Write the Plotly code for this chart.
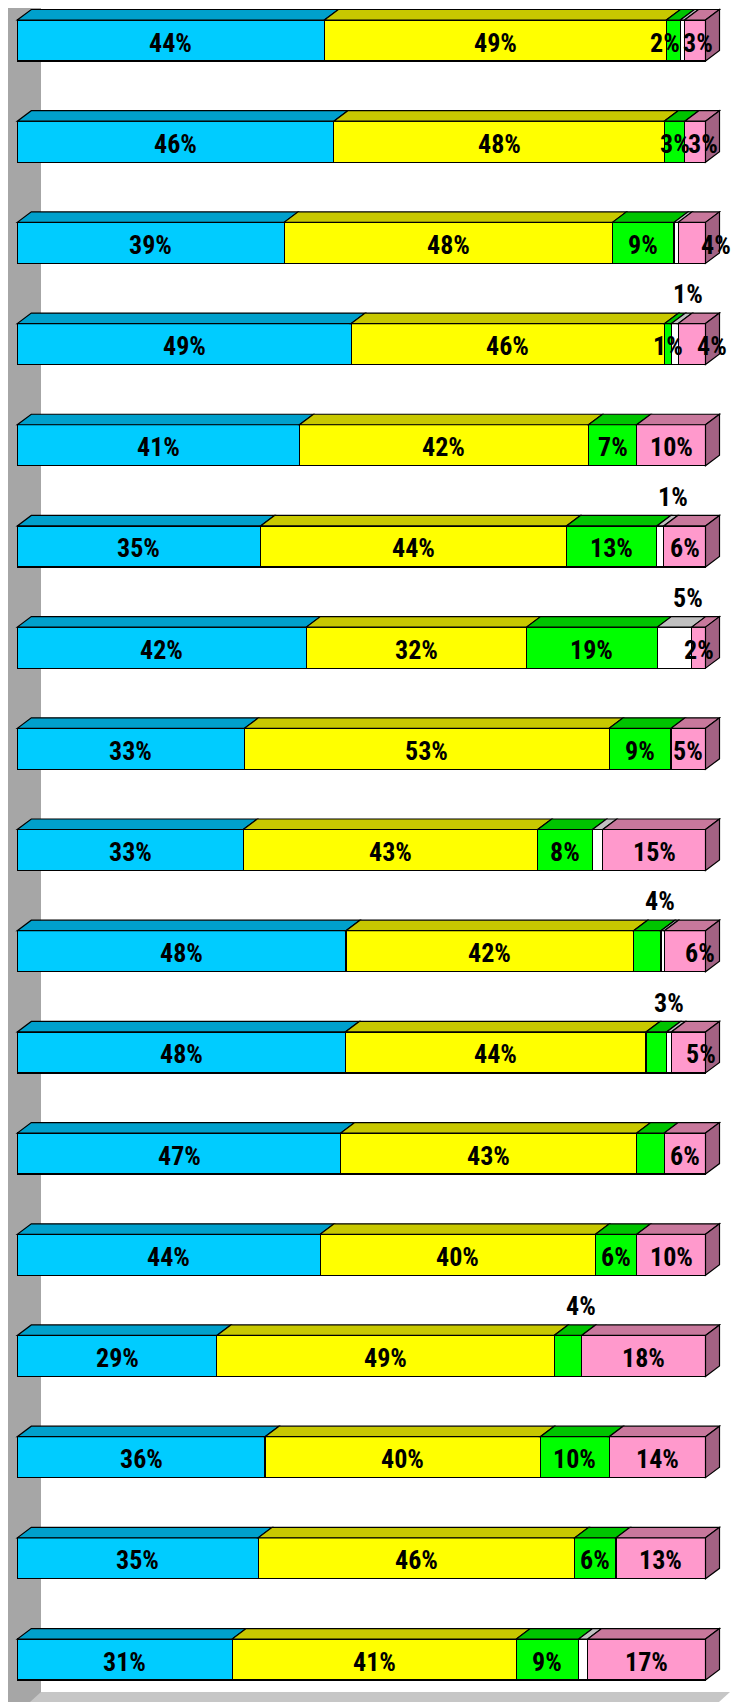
import plotly.graph_objects as go

# ---- data (percent per row, top row first) ----
cyan   = [44, 46, 39, 49, 41, 35, 42, 33, 33, 48, 48, 47, 44, 29, 36, 35, 31]
yellow = [49, 48, 48, 46, 42, 44, 32, 53, 43, 42, 44, 43, 40, 49, 40, 46, 41]
green  = [2, 3, 9, 1, 7, 13, 19, 9, 8, 4, 3, 4, 6, 4, 10, 6, 9]
white  = [0.6, 0, 0.6, 1, 0, 1, 5, 0, 1.5, 0.5, 0.7, 0, 0, 0, 0, 0, 1.3]
pink   = [3, 3, 4, 4, 10, 6, 2, 5, 15, 6, 5, 6, 10, 18, 14, 13, 17]

# label placement: "in" = centred in segment, "above" = above bar, None = no label
cyan_lbl   = ["in"] * 17
yellow_lbl = ["in"] * 17
green_lbl  = ["in"] * 9 + ["above", "above", None, "in", "above", "in", "in", "in"]
white_lbl  = [None, None, None, "above", None, "above", "above"] + [None] * 10
pink_lbl   = ["in"] * 17
# small horizontal nudges (px) of some labels, as in the original
pink_nudge = {0: 3, 1: 8, 2: 24, 3: 20, 9: 15, 10: 13}
green_nudge = {0: -8}

series = [
    ("cyan", cyan, cyan_lbl, "#00CCFF", "#00A0CC", "#007A99"),
    ("yellow", yellow, yellow_lbl, "#FFFF00", "#C8C800", "#999900"),
    ("green", green, green_lbl, "#00FF00", "#00C400", "#009900"),
    ("white", white, white_lbl, "#FFFFFF", "#C0C0C0", "#A0A0A0"),
    ("pink", pink, pink_lbl, "#FF99CC", "#C8789C", "#A36283"),
]

n = len(cyan)
rows = list(range(n))

# geometry (data units); page body has an 8px margin, so the figure is offset
OFF = 8
FIG_W, FIG_H = 741 - OFF, 1702 - OFF
PX_X = 6.882          # px per percent
PX_Y = 101.19         # px per row
X0_PX = 17.3          # page px of 0%
Y0_PX = 40.5          # page px of first row centre
BAR_W = 41 / PX_Y
DX = 14 / PX_X        # depth offset in x
DY = 10.5 / PX_Y      # depth offset in y
h = BAR_W / 2

def px2x(p):
    return (p - X0_PX) / PX_X

def px2y(p):
    return (p - Y0_PX) / PX_Y

FONT = "Roboto Condensed, Liberation Sans Narrow, DejaVu Sans Condensed, Arial Narrow, Roboto, sans-serif"
FSIZE = 26

fig = go.Figure()
for name, vals, _, front, top, side in series:
    fig.add_trace(go.Bar(
        y=rows, x=vals, orientation="h", width=BAR_W, name=name,
        marker=dict(color=front, line=dict(color="black", width=1.2)),
        hoverinfo="skip", showlegend=False))

shapes = []
annotations = []

# wall and floor
y_floor = px2y(1692)
y_bottom = px2y(1702) + 0.2
shapes.append(dict(type="rect", xref="x", yref="y", x0=px2x(7), x1=px2x(41),
                   y0=-1, y1=y_bottom, fillcolor="#A6A6A6", line=dict(width=0), layer="below"))
fx0 = px2x(41)
fx1 = px2x(730)
slope = (11 / PX_X) / (10 / PX_Y)
dyb = y_bottom - y_floor
shapes.append(dict(type="path", xref="x", yref="y",
                   path=f"M {fx0},{y_floor} L {fx1},{y_floor} L {fx1 - slope*dyb},{y_bottom} L {fx0 - slope*dyb},{y_bottom} Z",
                   fillcolor="#C6C6C6", line=dict(width=0), layer="below"))

for i in rows:
    total = sum(s[1][i] for s in series)
    cum = 0.0
    ytop = i - h
    last_idx = max(k for k, s in enumerate(series) if s[1][i] > 0)
    for k, (name, vals, lbls, front, top, side) in enumerate(series):
        v = vals[i]
        if v <= 0:
            continue
        a = cum / total * 100
        b = (cum + v) / total * 100
        cum += v
        # top face
        shapes.append(dict(type="path", xref="x", yref="y",
                           path=f"M {a},{ytop} L {b},{ytop} L {b+DX},{ytop-DY} L {a+DX},{ytop-DY} Z",
                           fillcolor=top, line=dict(color="black", width=1.2)))
        if k == last_idx:
            shapes.append(dict(type="path", xref="x", yref="y",
                               path=f"M {b},{ytop} L {b+DX},{ytop-DY} L {b+DX},{i+h-DY} L {b},{i+h} Z",
                               fillcolor=side, line=dict(color="black", width=1.2)))
        place = lbls[i]
        if place is None:
            continue
        txt = f"<b>{round(v)}%</b>"
        cx = (a + b) / 2
        if place == "in":
            xs = 0
            if name == "pink":
                xs = pink_nudge.get(i, 0)
            elif name == "green":
                xs = green_nudge.get(i, 0)
            annotations.append(dict(x=cx, y=i + 0.02, xref="x", yref="y", text=txt, showarrow=False,
                                    xshift=xs, font=dict(family=FONT, size=FSIZE, color="black")))
        else:
            annotations.append(dict(x=cx, y=ytop - 0.29, xref="x", yref="y", text=txt, showarrow=False,
                                    xshift=13, font=dict(family=FONT, size=FSIZE, color="black")))

fig.update_layout(
    width=FIG_W, height=FIG_H,
    margin=dict(l=0, r=0, t=0, b=0),
    barmode="stack", barnorm="percent",
    paper_bgcolor="white", plot_bgcolor="white",
    xaxis=dict(range=[px2x(OFF), px2x(741)], visible=False, fixedrange=True),
    yaxis=dict(range=[px2y(1702), px2y(OFF)], visible=False, fixedrange=True),
    shapes=shapes, annotations=annotations,
)

fig.write_html("out.html")
